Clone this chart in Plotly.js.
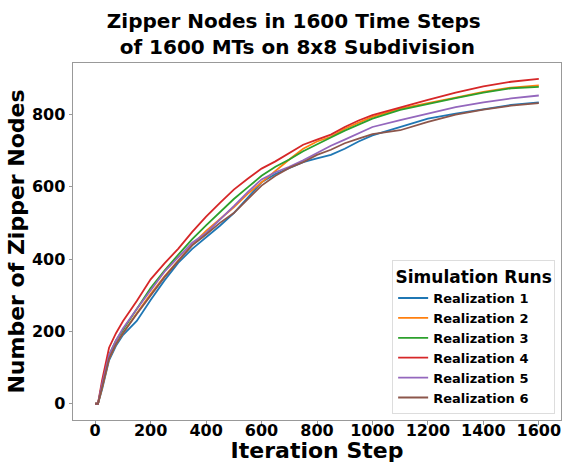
<!DOCTYPE html>
<html>
<head>
<meta charset="utf-8">
<script src="https://cdn.plot.ly/plotly-3.0.1.min.js"></script>
<style>html,body{margin:0;padding:0;background:#fff;}</style>
</head>
<body>
<div id="chart" style="width:565px;height:463px;"></div>
<script>
const steps = [0,10,25,50,75,100,150,200,250,300,350,400,450,500,550,600,650,700,750,800,850,900,950,1000,1100,1200,1300,1400,1500,1600];
const real1 = [0,0,40,120,160,190,229,287,341,390,428,460,492,527,568,612,635,652,668,678,688,705,725,742,765,788,802,815,826,833];
const real2 = [0,0,45,125,165,195,250,303,352,395,440,478,510,543,580,612,643,675,705,725,738,760,777,793,816,830,846,862,874,880];
const real3 = [0,0,55,135,175,205,262,320,368,412,455,493,530,566,598,630,655,675,698,718,736,755,772,788,812,829,845,860,872,876];
const real4 = [0,0,65,155,195,228,284,344,388,429,475,517,555,592,622,650,670,693,716,730,744,765,783,798,820,840,860,877,890,898];
const real5 = [0,0,55,135,175,208,262,315,365,405,445,472,508,546,585,620,640,655,673,693,713,730,748,765,784,803,820,833,844,852];
const real6 = [0,0,45,125,165,195,248,300,350,395,438,468,500,527,565,603,630,652,668,688,702,720,733,745,756,779,799,813,824,831];
const names = ["Realization 1","Realization 2","Realization 3","Realization 4","Realization 5","Realization 6"];
const series = [real1, real2, real3, real4, real5, real6];
const colors = ["#1f77b4","#ff7f0e","#2ca02c","#d62728","#9467bd","#8c564b"];

const FONT = "DejaVu Sans, sans-serif";
const traces = series.map((s, i) => ({
  x: steps, y: s, type: "scatter", mode: "lines", name: names[i],
  line: {color: colors[i], width: 1.8}
}));

const axisCommon = {
  showgrid: false, zeroline: false, showline: true, mirror: true,
  linecolor: "#999", linewidth: 1, ticks: "outside", ticklen: 3.5,
  tickcolor: "#999", tickfont: {family: FONT, size: 16, color: "#000", weight: "bold"}
};

const layout = {
  width: 565, height: 463,
  margin: {l: 73, r: 4, t: 63, b: 43},
  paper_bgcolor: "#fff", plot_bgcolor: "#fff",
  font: {family: FONT, color: "#000"},
  title: {
    text: "<b>Zipper Nodes in 1600 Time Steps<br>\u00a0of 1600 MTs on 8x8 Subdivision</b>",
    font: {family: FONT, size: 20, color: "#000"},
    xref: "container", x: 0.52, xanchor: "center",
    yref: "container", y: 0.94, yanchor: "top"
  },
  xaxis: Object.assign({}, axisCommon, {
    range: [-80, 1680], tickvals: [0,200,400,600,800,1000,1200,1400,1600],
    ticklabelstandoff: -8,
    title: {text: "<b>Iteration Step</b>", font: {family: FONT, size: 22, color: "#000"}, standoff: 5}
  }),
  yaxis: Object.assign({}, axisCommon, {
    range: [-44.85, 941.85], tickvals: [0,200,400,600,800],
    title: {text: "<b>Number of Zipper Nodes</b>", font: {family: FONT, size: 22, color: "#000"}, standoff: 1}
  }),
  showlegend: true,
  legend: {
    x: 0.988, xanchor: "right", y: 0.017, yanchor: "bottom",
    bgcolor: "#fff", bordercolor: "#ddd", borderwidth: 1,
    font: {family: FONT, size: 13, color: "#000", weight: "bold"},
    title: {text: "<b>Simulation Runs</b>", font: {family: FONT, size: 17, color: "#000"}, side: "top center"},
    itemwidth: 30
  }
};

Plotly.newPlot("chart", traces, layout, {displayModeBar: false, staticPlot: true});
</script>
</body>
</html>
